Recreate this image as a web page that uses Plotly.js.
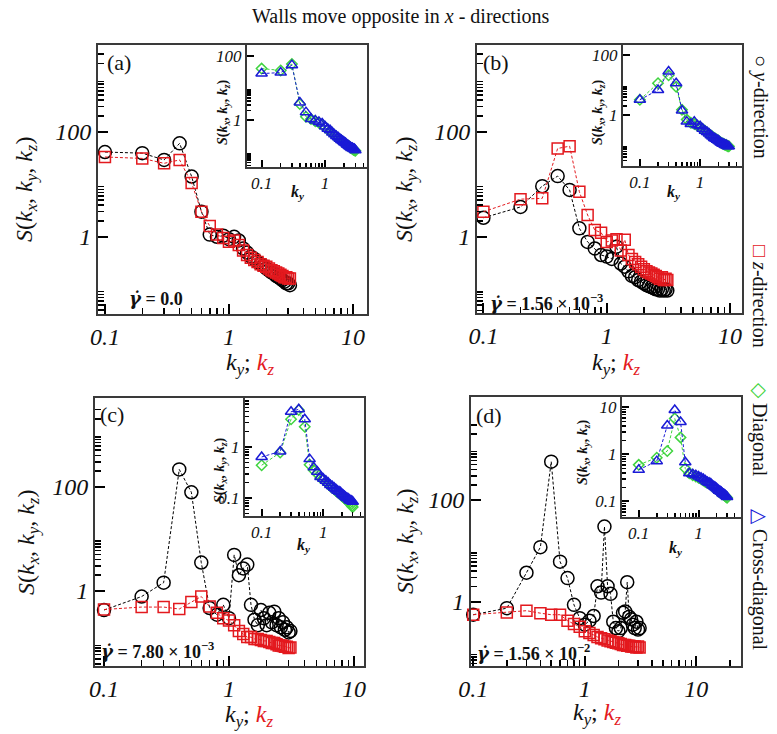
<!DOCTYPE html>
<html>
<head>
<meta charset="utf-8">
<script src="https://cdn.plot.ly/plotly-3.0.1.min.js"></script>
<style>
  html, body { margin: 0; padding: 0; background: #fff; }
  #chart { width: 777px; height: 734px; }
</style>
</head>
<body>
<div id="chart"></div>
<script>
// Wave numbers along each direction
const kMain = [0.1,0.2,0.3,0.4,0.5,0.6,0.7,0.8,0.9,1.0,1.1,1.2,1.3,1.4,1.5,1.6,1.7,1.8,1.9,2.0,2.1,2.2,2.3,2.4,2.5,2.6,2.7,2.8,2.9,3.0,3.1];
const kInset = [0.1,0.2,0.3,0.4,0.5,0.6,0.7,0.8,0.9,1.0,1.1,1.2,1.3,1.4,1.5,1.6,1.7,1.8,1.9,2.0,2.1,2.2,2.3,2.4,2.5,2.6,2.7,2.8,2.9,3.0];

// (a) shear rate 0.0
const sY_a = [41,39,29,60,14,3.0,1.1,1.0,1.05,0.9,1.0,0.85,0.6,0.5,0.42,0.38,0.33,0.3,0.28,0.25,0.23,0.21,0.2,0.18,0.17,0.16,0.15,0.14,0.13,0.13,0.12];
const sZ_a = [33,31,25,29,10.5,3.0,1.6,1.1,0.95,0.8,0.85,0.7,0.55,0.45,0.4,0.36,0.33,0.3,0.28,0.27,0.25,0.23,0.22,0.21,0.2,0.19,0.18,0.17,0.17,0.16,0.16];
const sDiag_a = [40,35,55,3.2,1.3,1.1,0.95,0.85,0.75,0.62,0.52,0.47,0.4,0.35,0.31,0.28,0.26,0.24,0.22,0.2,0.19,0.175,0.165,0.155,0.145,0.14,0.13,0.125,0.12,0.115];
const sCross_a = [28,30,51,3.6,1.8,1.1,1.0,0.9,0.8,0.65,0.55,0.5,0.42,0.37,0.33,0.3,0.27,0.25,0.23,0.21,0.2,0.18,0.17,0.16,0.15,0.14,0.14,0.13,0.13,0.12];

// (b) shear rate 1.56e-3
const sY_b = [2.3,3.7,9.2,14.3,7.8,1.45,0.8,0.6,0.45,0.42,0.38,0.65,0.31,0.27,0.22,0.18,0.17,0.15,0.14,0.13,0.12,0.115,0.11,0.105,0.1,0.1,0.095,0.1,0.095,0.1,0.095];
const sZ_b = [3.0,5.2,5.4,48,53,7.2,2.6,1.34,1.2,0.8,0.85,0.9,0.55,0.88,0.45,0.38,0.33,0.3,0.27,0.24,0.22,0.21,0.2,0.19,0.18,0.17,0.16,0.17,0.15,0.16,0.15];
const sDiag_b = [3.2,11.4,21,8.7,1.5,0.7,0.55,0.5,0.44,0.4,0.34,0.3,0.26,0.23,0.21,0.19,0.17,0.16,0.15,0.14,0.13,0.12,0.115,0.11,0.105,0.1,0.1,0.095,0.09,0.09];
const sCross_b = [3.2,6.8,28,11.4,1.4,0.6,0.5,0.6,0.45,0.42,0.35,0.3,0.27,0.24,0.21,0.19,0.17,0.16,0.15,0.14,0.13,0.12,0.115,0.11,0.105,0.1,0.1,0.095,0.09,0.09];

// (c) shear rate 7.80e-3
const sY_c = [0.43,0.78,1.44,214,78,3.5,0.47,0.35,0.54,0.3,4.9,2.0,2.7,3.2,0.54,0.28,0.22,0.43,0.3,0.22,0.38,0.25,0.4,0.22,0.3,0.2,0.25,0.18,0.2,0.16,0.17];
const sZ_c = [0.44,0.49,0.49,0.45,0.61,0.78,0.5,0.38,0.3,0.27,0.22,0.17,0.15,0.13,0.13,0.12,0.12,0.115,0.11,0.11,0.105,0.1,0.1,0.095,0.09,0.09,0.088,0.085,0.085,0.08,0.082];
const sDiag_c = [0.44,0.78,3.5,5.3,2.5,0.45,0.35,0.3,0.25,0.23,0.21,0.19,0.17,0.16,0.15,0.14,0.13,0.125,0.12,0.11,0.105,0.1,0.095,0.09,0.088,0.085,0.08,0.075,0.07,0.067];
const sCross_c = [0.64,0.82,4.9,5.5,3.5,0.58,0.4,0.33,0.26,0.24,0.22,0.2,0.18,0.17,0.16,0.15,0.14,0.135,0.13,0.12,0.115,0.11,0.105,0.1,0.1,0.095,0.09,0.09,0.088,0.085];

// (d) shear rate 1.56e-2
const sY_d = [0.55,0.74,3.7,11.8,570,6.1,2.9,0.86,0.47,0.35,0.42,0.52,2.0,1.5,30,2.0,1.42,0.4,0.3,0.26,0.3,0.6,0.64,2.4,0.5,0.45,0.35,0.3,0.4,0.28,0.3];
const sZ_d = [0.55,0.61,0.66,0.59,0.55,0.55,0.42,0.36,0.32,0.26,0.24,0.22,0.2,0.19,0.18,0.17,0.165,0.16,0.155,0.15,0.145,0.14,0.14,0.135,0.135,0.13,0.13,0.13,0.125,0.13,0.125];
const sDiag_d = [0.6,0.85,1.18,5.8,2.3,0.5,0.4,0.36,0.34,0.32,0.3,0.28,0.26,0.25,0.24,0.23,0.21,0.2,0.19,0.18,0.17,0.16,0.155,0.15,0.145,0.14,0.135,0.13,0.125,0.12];
const sCross_d = [0.47,0.72,4.1,8.8,4.9,0.68,0.4,0.38,0.36,0.34,0.32,0.3,0.28,0.26,0.25,0.24,0.22,0.21,0.2,0.19,0.18,0.17,0.165,0.16,0.15,0.145,0.14,0.135,0.13,0.125];

// Tick values and labels
const mainXTicks = [0.1, 1, 10];
const mainXLabels = ['0.1', '1', '10'];
const mainYTicks = [1, 100];
const mainYLabels = ['1', '100'];
const insetXTicks = [0.1, 1];
const insetXLabels = ['0.1', '1'];
const insetYTicksWide = [1, 100];
const insetYLabelsWide = ['1', '100'];
const insetYTicksC = [0.1, 1];
const insetYLabelsC = ['0.1', '1'];
const insetYTicksD = [0.1, 1, 10];
const insetYLabelsD = ['0.1', '1', '10'];
const minorDecade = [0.2,0.3,0.4,0.5,0.6,0.7,0.8,0.9,2,3,4,5,6,7,8,9,20,30];
const minorInsetX = [0.2,0.3,0.4,0.5,0.6,0.7,0.8,0.9,2,3,4];
const minorEven = [0.02,0.03,0.04,0.05,0.06,0.07,0.08,0.09,2,3,4,5,6,7,8,9,200,300,400,500,600,700,800,900,2000,3000];
const minorAll = [0.02,0.03,0.04,0.05,0.06,0.07,0.08,0.09,0.2,0.3,0.4,0.5,0.6,0.7,0.8,0.9,2,3,4,5,6,7,8,9];

const GAMMA_DOT = '<span style="font-family:DejaVu Serif"><i>γ̇</i></span>';
const shearLabels = [
  '<b>' + GAMMA_DOT + ' = 0.0</b>',
  '<b>' + GAMMA_DOT + ' = 1.56 × 10<sup>−3</sup></b>',
  '<b>' + GAMMA_DOT + ' = 7.80 × 10<sup>−3</sup></b>',
  '<b>' + GAMMA_DOT + ' = 1.56 × 10<sup>−2</sup></b>'
];
const panelTags = ['(a)', '(b)', '(c)', '(d)'];

const COL = { y: '#000000', z: '#e3191e', diag: '#3fd43f', cross: '#1a1ad6' };
const W = 777, H = 734;
const SERIF = 'Liberation Serif, Times New Roman, serif';

// Layout geometry of the four main frames and their insets (pixels)
const geom = [
  { box: [98, 45, 367, 314],  xr: [-1.056, 1.113], yr: [-1.47, 3.65],
    ibox: [247, 45, 367, 167], ixr: [-1.23, 0.66], iyr: [-1.44, 2.33] },
  { box: [477, 45, 742, 313], xr: [-1.052, 1.097], yr: [-1.45, 3.65],
    ibox: [623, 45, 742, 166], ixr: [-1.28, 0.695], iyr: [-1.70, 2.33] },
  { box: [95, 398, 364, 666], xr: [-1.072, 1.08], yr: [-1.44, 3.70],
    ibox: [245, 398, 364, 516], ixr: [-1.27, 0.66], iyr: [-1.35, 0.96] },
  { box: [471, 397, 741, 666], xr: [-1.02, 1.40], yr: [-1.27, 4.03],
    ibox: [622, 397, 741, 517], ixr: [-1.28, 0.71], iyr: [-1.33, 1.22] }
];

const mainSeries = [[sY_a, sZ_a], [sY_b, sZ_b], [sY_c, sZ_c], [sY_d, sZ_d]];
const insetSeries = [[sDiag_a, sCross_a], [sDiag_b, sCross_b], [sDiag_c, sCross_c], [sDiag_d, sCross_d]];
const insetYTickSets = [
  [insetYTicksWide, insetYLabelsWide, minorEven],
  [insetYTicksWide, insetYLabelsWide, minorEven],
  [insetYTicksC, insetYLabelsC, minorAll],
  [insetYTicksD, insetYLabelsD, minorAll]
];

function series(x, y, color, symbol, size, xa, ya) {
  return {
    type: 'scatter', mode: 'lines+markers', x: x, y: y, xaxis: xa, yaxis: ya,
    line: { color: color, width: 1, dash: '3px,2px' },
    marker: { symbol: symbol, size: size, color: color, line: { color: color, width: 1.5 } },
    cliponaxis: false, showlegend: false, hoverinfo: 'skip'
  };
}

function axis(domain, range, anchor, tickvals, ticktext, minorvals, big) {
  return {
    type: 'log', domain: domain, range: range, anchor: anchor,
    showline: true, mirror: true, linecolor: '#3a3a3a', linewidth: 2,
    showgrid: false, zeroline: false,
    tickmode: 'array', tickvals: tickvals, ticktext: ticktext,
    ticks: 'inside', ticklen: big ? 10 : 7, tickwidth: 2, tickcolor: '#000',
    minor: { tickmode: 'array', tickvals: minorvals, ticks: 'inside',
             ticklen: big ? 6 : 4, tickwidth: 1.5, tickcolor: '#000' },
    tickfont: { family: SERIF, size: big ? 24 : 17, color: '#111', style: 'italic' },
    fixedrange: true
  };
}

const traces = [];
const layout = {
  width: W, height: H,
  margin: { l: 0, r: 0, t: 0, b: 0 },
  paper_bgcolor: '#fff', plot_bgcolor: 'rgba(0,0,0,0)',
  showlegend: false,
  annotations: []
};

function px(x) { return x / W; }
function py(y) { return 1 - y / H; }
function note(x, y, text, size, extra) {
  layout.annotations.push(Object.assign({
    xref: 'paper', yref: 'paper', x: px(x), y: py(y), text: text,
    showarrow: false, font: { family: SERIF, size: size, color: '#111' },
    xanchor: 'center', yanchor: 'middle'
  }, extra || {}));
}

geom.forEach(function (g, i) {
  const m = i + 1, n = i + 5;
  const mx = 'x' + (m === 1 ? '' : m), my = 'y' + (m === 1 ? '' : m);
  const ix = 'x' + n, iy = 'y' + n;
  layout['xaxis' + (m === 1 ? '' : m)] = axis([px(g.box[0]), px(g.box[2])], g.xr, my,
    mainXTicks, mainXLabels, minorDecade, true);
  layout['yaxis' + (m === 1 ? '' : m)] = axis([py(g.box[3]), py(g.box[1])], g.yr, mx,
    mainYTicks, mainYLabels, minorEven, true);
  const yt = insetYTickSets[i];
  layout['xaxis' + n] = axis([px(g.ibox[0]), px(g.ibox[2])], g.ixr, iy,
    insetXTicks, insetXLabels, minorInsetX, false);
  layout['yaxis' + n] = axis([py(g.ibox[3]), py(g.ibox[1])], g.iyr, ix,
    yt[0], yt[1], yt[2], false);

  traces.push(series(kMain, mainSeries[i][0], COL.y, 'circle-open', 13, mx, my));
  traces.push(series(kMain, mainSeries[i][1], COL.z, 'square-open', 11, mx, my));
  traces.push(series(kInset, insetSeries[i][0], COL.diag, 'diamond-open', 8, ix, iy));
  traces.push(series(kInset, insetSeries[i][1], COL.cross, 'triangle-up-open', 10, ix, iy));
});

// Panel tags
note(119, 62, panelTags[0], 22);
note(496, 62, panelTags[1], 22);
note(112, 414, panelTags[2], 22);
note(489, 415, panelTags[3], 22);

// Shear-rate labels
note(127, 298, shearLabels[0], 18, { xanchor: 'left' });
note(488, 302, shearLabels[1], 18, { xanchor: 'left' });
note(99, 650, shearLabels[2], 18, { xanchor: 'left' });
note(475, 652, shearLabels[3], 18, { xanchor: 'left' });

// Axis titles of the main frames
const yTitle = '<i>S</i>(<i>k<sub>x</sub></i>, <i>k<sub>y</sub></i>, <i>k<sub>z</sub></i>)';
const xTitle = '<i>k<sub>y</sub></i>; <span style="color:#e3191e"><i>k<sub>z</sub></i></span>';
note(26, 190, yTitle, 24, { textangle: -90 });
note(406, 190, yTitle, 24, { textangle: -90 });
note(28, 543, yTitle, 24, { textangle: -90 });
note(407, 542, yTitle, 24, { textangle: -90 });
note(250, 364, xTitle, 24);
note(616, 364, xTitle, 24);
note(249, 716, xTitle, 24);
note(597, 714, xTitle, 24);

// Axis titles of the insets
const iyTitle = '<b><i>S</i>(<i>k<sub>x</sub></i>, <i>k<sub>y</sub></i>, <i>k<sub>z</sub></i>)</b>';
const ixTitle = '<b><i>k<sub>y</sub></i></b>';
note(223, 112, iyTitle, 14, { textangle: -90 });
note(598, 112, iyTitle, 14, { textangle: -90 });
note(220, 470, iyTitle, 14, { textangle: -90 });
note(583, 452, iyTitle, 14, { textangle: -90 });
note(297, 193, ixTitle, 16);
note(673, 193, ixTitle, 16);
note(303, 545, ixTitle, 16);
note(675, 548, ixTitle, 16);

// Figure title
note(400, 17, 'Walls move opposite in <i>x</i> - directions', 20);

// Vertical key on the right edge
note(760, 107, '<span style="color:#000">○</span> <i>y</i>-direction', 20, { textangle: 90 });
note(760, 296, '<span style="color:#e3191e">□</span> <i>z</i>-direction', 20, { textangle: 90 });
note(760, 430, '<span style="color:#3fd43f">◇</span> Diagonal', 20, { textangle: 90 });
note(760, 580, '<span style="color:#1a1ad6">△</span> Cross-diagonal', 20, { textangle: 90 });

Plotly.newPlot('chart', traces, layout, { staticPlot: true, displayModeBar: false });
</script>
</body>
</html>
